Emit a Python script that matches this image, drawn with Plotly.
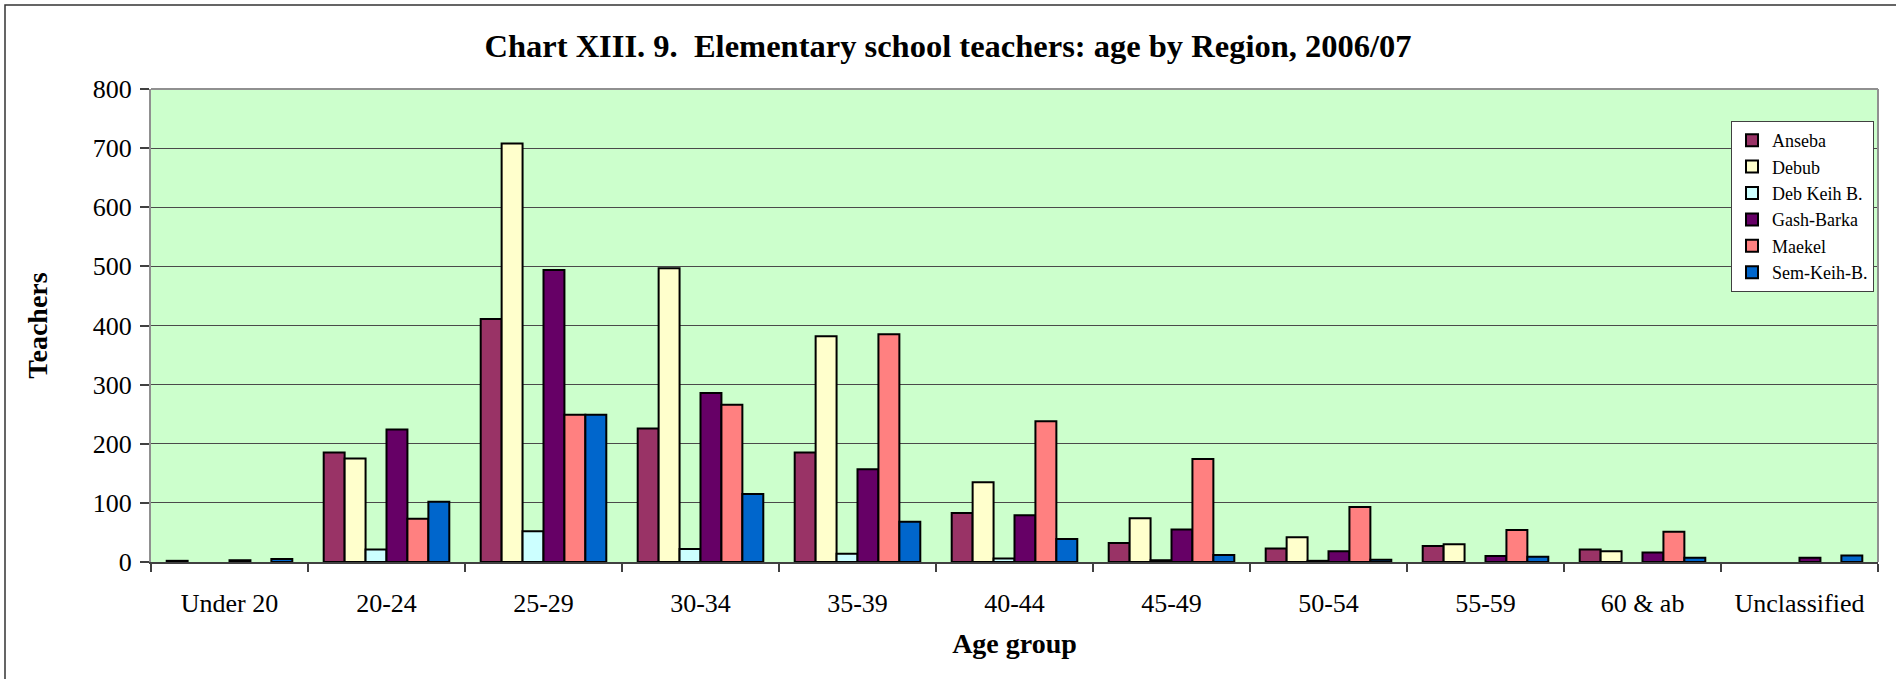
import plotly.graph_objects as go

# Age groups on the x axis
age_groups = ["Under 20", "20-24", "25-29", "30-34", "35-39", "40-44",
              "45-49", "50-54", "55-59", "60 & ab", "Unclassified"]

# Number of elementary school teachers per region and age group
anseba = [2, 185, 411, 226, 185, 83, 32, 23, 27, 21, 0]
debub = [0, 175, 708, 497, 382, 135, 74, 42, 30, 18, 0]
deb_keih_b = [0, 21, 52, 22, 14, 6, 3, 2, 0, 0, 0]
gash_barka = [3, 224, 494, 286, 157, 79, 55, 18, 10, 16, 7]
maekel = [0, 73, 249, 266, 385, 238, 174, 93, 54, 51, 0]
sem_keih_b = [5, 102, 249, 115, 68, 39, 12, 4, 9, 7, 11]

regions = ["Anseba", "Debub", "Deb Keih B.", "Gash-Barka", "Maekel", "Sem-Keih-B."]
series = [anseba, debub, deb_keih_b, gash_barka, maekel, sem_keih_b]
colors = ["#993366", "#FFFFCC", "#CCFFFF", "#660066", "#FF8080", "#0066CC"]

y_ticks = [0, 100, 200, 300, 400, 500, 600, 700, 800]

W, H = 1896, 679
ML, MR, MT, MB = 151, 18, 89, 117
PW, PH = W - ML - MR, H - MT - MB

FONT = "Liberation Serif, Times New Roman, serif"


def px_x(px):
    return (px - ML) / PW


def px_y(py):
    return (H - MB - py) / PH


fig = go.Figure()
for name, vals, col in zip(regions, series, colors):
    # empty cells are left blank so no outline is drawn on the baseline
    fig.add_trace(go.Bar(
        x=age_groups, y=[v if v else None for v in vals], name=name,
        marker=dict(color=col, line=dict(color="black", width=2)),
    ))

fig.update_layout(
    width=W, height=H, autosize=False,
    margin=dict(l=ML, r=MR, t=MT, b=MB, pad=0),
    paper_bgcolor="white",
    plot_bgcolor="#CCFFCC",
    font=dict(family=FONT, color="black", size=26),
    barmode="group", bargap=0.2, bargroupgap=0,
    title=dict(
        text="<b>Chart XIII. 9.&nbsp; Elementary school teachers: age by Region, 2006/07</b>",
        x=0.5, xref="container", xanchor="center",
        y=1 - 46 / H, yref="container", yanchor="middle",
        font=dict(family=FONT, size=32.5, color="black"),
    ),
    xaxis=dict(
        type="category",
        showline=True, linecolor="#404040", linewidth=1.5,
        ticks="outside", tickson="boundaries", ticklen=8,
        tickcolor="#404040", tickwidth=1.5,
        ticklabelstandoff=17,
        showgrid=False,
        tickfont=dict(family=FONT, size=26),
        title=dict(text="<b>Age group</b>", standoff=16,
                   font=dict(family=FONT, size=28)),
    ),
    yaxis=dict(
        range=[0, 800], tickvals=y_ticks,
        showline=True, linecolor="#909090", linewidth=2,
        ticks="outside", ticklen=9, tickcolor="#404040", tickwidth=1.5,
        ticklabelstandoff=3,
        showgrid=True, gridcolor="#4a4a4a", gridwidth=1,
        zeroline=False,
        tickfont=dict(family=FONT, size=26),
        title=dict(text="<b>Teachers</b>", standoff=37,
                   font=dict(family=FONT, size=28)),
    ),
    legend=dict(
        x=px_x(1874), y=px_y(121), xanchor="right", yanchor="top",
        bgcolor="white", bordercolor="#404040", borderwidth=1,
        font=dict(family=FONT, size=18, color="black"),
        tracegroupgap=0,
    ),
    shapes=[
        # top and right edges of the plotting area
        dict(type="line", xref="paper", yref="paper", x0=0, x1=1, y0=1, y1=1,
             line=dict(color="#909090", width=2), layer="above"),
        dict(type="line", xref="paper", yref="paper", x0=1, x1=1, y0=0, y1=1,
             line=dict(color="#909090", width=2), layer="above"),
        # frame around the whole chart
        dict(type="rect", xref="paper", yref="paper",
             x0=px_x(5), x1=px_x(1902), y0=px_y(700), y1=px_y(5),
             line=dict(color="#333333", width=1.5), fillcolor="rgba(0,0,0,0)",
             layer="above"),
    ],
)

fig.write_html("out.html")
